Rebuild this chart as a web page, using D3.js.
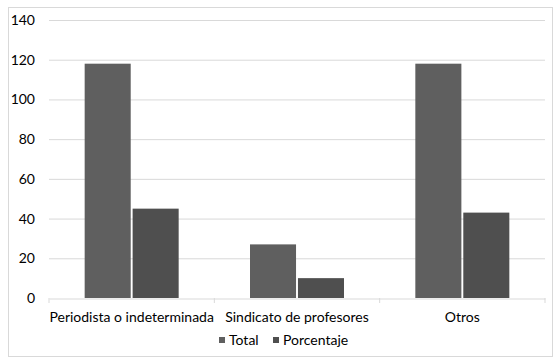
<!DOCTYPE html>
<html><head><meta charset="utf-8">
<script src="https://cdn.jsdelivr.net/npm/d3@7"></script>
<style>
body{margin:0;background:#fff;}
text{font-family:Lato,"Open Sans",sans-serif;fill:#000;}
</style></head>
<body><svg id="c" width="559" height="362"></svg>
<script>
const categories = ["Periodista o indeterminada","Sindicato de profesores","Otros"];
const seriesNames = ["Total","Porcentaje"];
const totalValues = [118,27,118];
const porcentajeValues = [45,10,43];
const yTicks = [0,20,40,60,80,100,120,140];
const colors = ["#5f5f5f","#4f4f4f"];

const svg = d3.select("#c");
svg.append("rect").attr("x",8.5).attr("y",7.5).attr("width",544).attr("height",349)
  .attr("fill","#fff").attr("stroke","#d9d9d9");

const m = {l:49,r:545,t:20,b:298};
const x = d3.scaleBand().domain(categories).range([m.l,m.r]).paddingInner(0).paddingOuter(0);
const y = d3.scaleLinear().domain([0,140]).range([m.b,m.t]);
const half = 47;
const inner = d3.scaleBand().domain(seriesNames)
  .range([x.bandwidth()/2-half, x.bandwidth()/2+half]).paddingInner(0.04).paddingOuter(0);

// grid
svg.append("g").selectAll("line").data(yTicks.filter(d=>d>0)).join("line")
  .attr("x1",m.l).attr("x2",m.r).attr("y1",d=>y(d)+0.5).attr("y2",d=>y(d)+0.5)
  .attr("stroke","#d9d9d9").attr("stroke-width",1);

// y axis labels
const ya = svg.append("g").attr("transform",`translate(${m.l-14},0)`)
  .call(d3.axisLeft(y).tickValues(yTicks).tickSize(0).tickPadding(0));
ya.select(".domain").remove();
ya.selectAll("text").attr("font-size",14).attr("font-family","Lato,sans-serif").attr("fill","#000");

// bars
const data = categories.map((c,i)=>({c, vals:[totalValues[i],porcentajeValues[i]]}));
const g = svg.append("g").selectAll("g").data(data).join("g")
  .attr("transform",d=>`translate(${x(d.c)},0)`);
g.selectAll("rect").data(d=>d.vals.map((v,j)=>({s:seriesNames[j],v,j}))).join("rect")
  .attr("x",d=>inner(d.s)).attr("width",inner.bandwidth())
  .attr("y",d=>y(d.v)).attr("height",d=>y(0)-y(d.v))
  .attr("fill",d=>colors[d.j]);

// x axis
const xa = svg.append("g").attr("transform",`translate(0,${m.b+0.5})`)
  .call(d3.axisBottom(x).tickSize(0).tickPadding(14));
xa.select(".domain").attr("stroke","#d9d9d9");
xa.selectAll("text").attr("font-size",14).attr("font-family","Lato,sans-serif").attr("fill","#000");
// category boundary ticks
svg.append("g").selectAll("line").data(d3.range(categories.length+1)).join("line")
  .attr("x1",i=>m.l+i*x.bandwidth()).attr("x2",i=>m.l+i*x.bandwidth())
  .attr("y1",m.b).attr("y2",m.b+5).attr("stroke","#d9d9d9");

// legend
const leg = svg.append("g");
const legX = [219,273];
seriesNames.forEach((s,i)=>{
  leg.append("rect").attr("x",legX[i]).attr("y",337).attr("width",6).attr("height",6).attr("fill",colors[i]);
  leg.append("text").attr("x",legX[i]+10).attr("y",345).attr("font-size",14).text(s);
});
</script></body></html>
